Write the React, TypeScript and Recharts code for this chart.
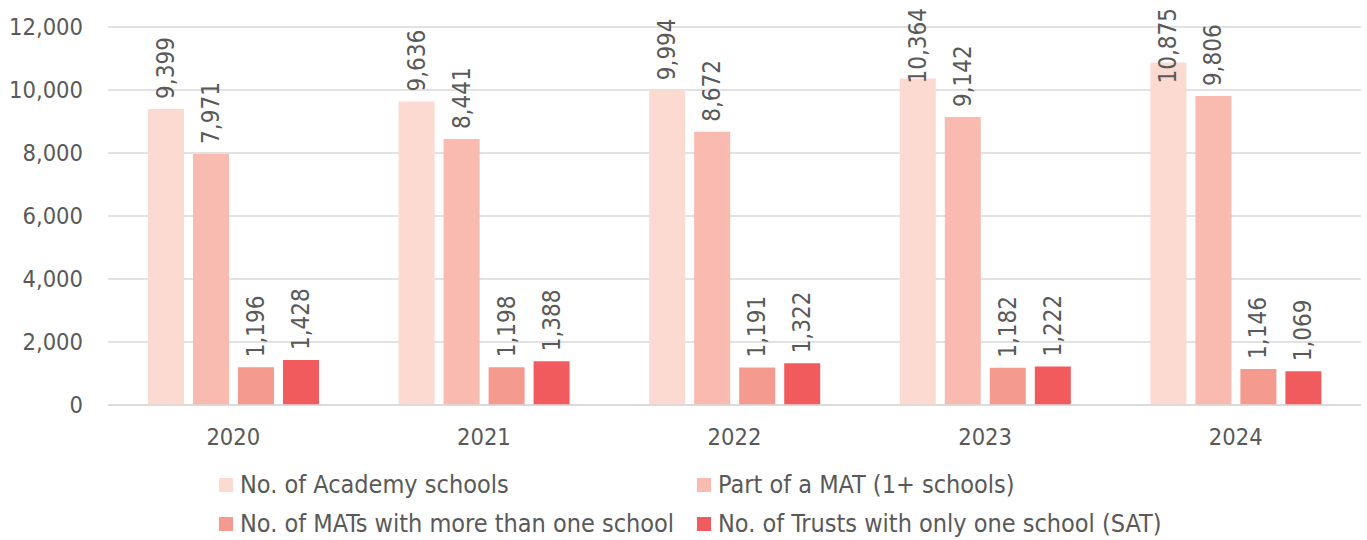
import { Bar, BarChart, CartesianGrid, LabelList, Legend, XAxis, YAxis } from "recharts"

const years = ["2020", "2021", "2022", "2023", "2024"]
const academySchools = [9399, 9636, 9994, 10364, 10875]
const partOfMat = [7971, 8441, 8672, 9142, 9806]
const matsMultiSchool = [1196, 1198, 1191, 1182, 1146]
const singleTrusts = [1428, 1388, 1322, 1222, 1069]
const yTicks = [0, 2000, 4000, 6000, 8000, 10000, 12000]

const series = [
  { key: "academy", name: "No. of Academy schools", color: "#FCD9D1" },
  { key: "mat", name: "Part of a MAT (1+ schools)", color: "#F9BAB0" },
  { key: "multi", name: "No. of MATs with more than one school", color: "#F59A8F" },
  { key: "single", name: "No. of Trusts with only one school (SAT)", color: "#F15B5E" },
]

const data = years.map((year, i) => ({
  year,
  academy: academySchools[i],
  mat: partOfMat[i],
  multi: matsMultiSchool[i],
  single: singleTrusts[i],
}))

const FONT = "'DejaVu Sans Condensed', 'DejaVu Sans', sans-serif"
const TEXT = "#595959"
const LABEL_SIZE = 24

const fmt = (v: number) => v.toLocaleString("en-US")

let ctx: CanvasRenderingContext2D | null = null
function textWidth(s: string) {
  if (!ctx) ctx = document.createElement("canvas").getContext("2d")
  if (!ctx) return s.length * 13
  ctx.font = `${LABEL_SIZE}px ${FONT}`
  return ctx.measureText(s).width
}

// labels sit above the bar, but get pushed down (over the bar) when they'd run off the top
function RotatedLabel(props: any) {
  const { x, y, width, value } = props
  const cx = x + width / 2
  const str = fmt(value)
  let ty = y - 10
  const len = textWidth(str)
  if (ty - len < 8) ty = 8 + len
  return (
    <text
      x={cx}
      y={ty}
      transform={`rotate(-90 ${cx} ${ty})`}
      textAnchor="start"
      dominantBaseline="central"
      fill={TEXT}
      fontSize={LABEL_SIZE}
      fontFamily={FONT}
    >
      {str}
    </text>
  )
}

function LegendBox() {
  const cols = [219, 697]
  return (
    <div style={{ position: "relative", width: 1367, height: 95, fontFamily: FONT, fontSize: 25, color: TEXT }}>
      {series.map((s, i) => (
        <div
          key={s.key}
          style={{
            position: "absolute",
            left: cols[i % 2],
            top: i < 2 ? 25 : 64,
            display: "flex",
            alignItems: "center",
            whiteSpace: "nowrap",
          }}
        >
          <span style={{ display: "inline-block", width: 14, height: 14, background: s.color, marginRight: 7 }} />
          <span>{s.name}</span>
        </div>
      ))}
    </div>
  )
}

export default function App() {
  return (
    <div style={{ position: "absolute", left: 0, top: 0, background: "#fff" }}>
      <BarChart
        width={1367}
        height={540}
        data={data}
        margin={{ top: 27, right: 6, bottom: 0, left: 0 }}
        barSize={36}
        barGap={9}
      >
        <CartesianGrid vertical={false} stroke="#d9d9d9" strokeWidth={1.5} />
        <XAxis
          dataKey="year"
          height={40}
          tickLine={false}
          axisLine={{ stroke: "#d9d9d9", strokeWidth: 1.5 }}
          tick={{ fill: TEXT, fontSize: 23.5, fontFamily: FONT }}
          tickMargin={17}
        />
        <YAxis
          width={108}
          domain={[0, 12000]}
          ticks={yTicks}
          tickFormatter={fmt}
          tickLine={false}
          axisLine={false}
          tick={{ fill: TEXT, fontSize: 23.5, fontFamily: FONT }}
          tickMargin={19}
        />
        <Legend verticalAlign="bottom" height={95} wrapperStyle={{ left: 0, bottom: 0, width: 1367 }} content={() => <LegendBox />} />
        {series.map((s) => (
          <Bar key={s.key} dataKey={s.key} name={s.name} fill={s.color} isAnimationActive={false}>
            <LabelList dataKey={s.key} content={RotatedLabel} />
          </Bar>
        ))}
      </BarChart>
    </div>
  )
}
